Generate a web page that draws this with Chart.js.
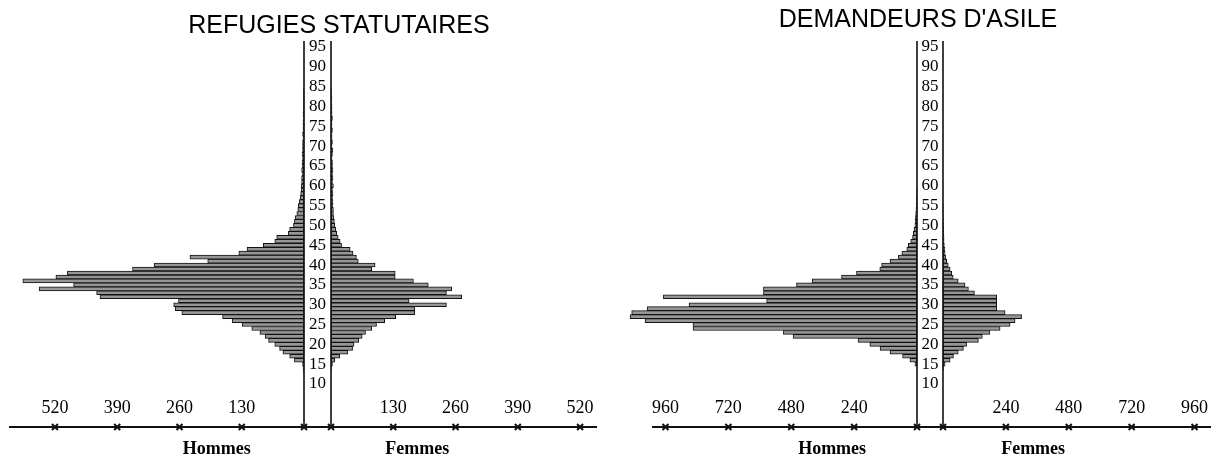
<!DOCTYPE html>
<html><head><meta charset="utf-8">
<script src="https://cdn.jsdelivr.net/npm/chart.js@4/dist/chart.umd.min.js"></script>
<style>
html,body{margin:0;padding:0;background:#fff;}
#wrap{position:relative;width:1217px;height:459px;overflow:hidden;background:#fff;}
canvas{position:absolute;top:0;}
.title{position:absolute;width:400px;text-align:center;font-family:"Liberation Sans",Arial,sans-serif;font-size:25px;line-height:30px;color:#000;white-space:nowrap;}
</style></head><body>
<div id="wrap">
<canvas id="c1" width="610" height="459" style="left:0"></canvas>
<canvas id="c2" width="607" height="459" style="left:610px"></canvas>
<div class="title" style="left:139px;top:9px">REFUGIES STATUTAIRES</div>
<div class="title" style="left:718px;top:3px">DEMANDEURS D'ASILE</div>
</div>
<script>
// Ages (single years), bottom to top
const ages = [10,11,12,13,14,15,16,17,18,19,
  20,21,22,23,24,25,26,27,28,29,
  30,31,32,33,34,35,36,37,38,39,
  40,41,42,43,44,45,46,47,48,49,
  50,51,52,53,54,55,56,57,58,59,
  60,61,62,63,64,65,66,67,68,69,
  70,71,72,73,74,75,76,77,78,79,
  80,81,82,83,84,85,86,87,88,89,
  90,91,92,93,94,95,96];

// REFUGIES STATUTAIRES
const hommesRefugies = [0,0,0,1,2,3,20,30,44,51,
  61,74,81,92,109,129,150,170,255,269,
  272,262,426,433,553,481,587,518,494,358,
  313,201,238,136,119,85,61,57,33,30,
  22,20,18,15,13,12,10,8,7,6,
  6,5,5,4,5,4,4,3,4,3,
  3,3,2,3,2,2,2,1,2,1,
  1,1,1,1,1,0,0,0,0,0,
  0,0,0,0,0,0,0];
const femmesRefugies = [0,0,0,0,1,3,8,18,35,45,
  48,58,65,72,85,95,112,135,175,175,
  241,163,273,241,252,203,172,134,134,85,
  92,57,53,46,40,22,19,15,12,10,
  8,7,6,5,5,4,4,3,4,3,
  5,3,4,3,4,3,3,2,3,4,
  2,3,2,2,3,2,2,3,2,2,
  2,1,2,1,1,0,0,0,0,0,
  0,0,0,0,0,0,0];

// DEMANDEURS D'ASILE
const hommesDemandeurs = [0,0,0,0,0,8,27,55,103,141,
  180,225,473,510,855,855,1038,1095,1089,1030,
  870,574,968,586,586,460,400,288,231,142,
  135,103,71,58,39,33,24,17,14,11,
  8,7,6,5,4,3,2,2,1,1,
  0,0,0,0,0,0,0,0,0,0,
  0,0,0,0,0,0,0,0,0,0,
  0,0,0,0,0,0,0,0,0,0,
  0,0,0,0,0,0,0];
const femmesDemandeurs = [0,0,0,0,2,8,27,40,58,78,
  90,135,150,179,218,256,275,300,237,205,
  205,205,205,120,97,84,58,39,33,27,
  20,14,10,8,7,5,4,4,3,3,
  2,1,1,1,1,1,0,0,0,0,
  0,0,0,0,0,0,0,0,0,0,
  0,0,0,0,0,0,0,0,0,0,
  0,0,0,0,0,0,0,0,0,0,
  0,0,0,0,0,0,0];

// Axis tick labels
const ticksRefugies = [130, 260, 390, 520];
const ticksDemandeurs = [240, 480, 720, 960];
const ageLabelStep = 5;

function drawMark(ctx, x, y) {
  ctx.save();
  ctx.lineWidth = 2;
  ctx.strokeStyle = '#111';
  ctx.beginPath();
  ctx.moveTo(x - 3, y - 3); ctx.lineTo(x + 3, y + 3);
  ctx.moveTo(x + 3, y - 3); ctx.lineTo(x - 3, y + 3);
  ctx.stroke();
  ctx.restore();
}

const decor = {
  id: 'decor',
  afterDatasetsDraw(chart, args, o) {
    const ctx = chart.ctx, xs = chart.scales.x, ys = chart.scales.y, ca = chart.chartArea;
    const xL = xs.getPixelForValue(-o.gap), xR = xs.getPixelForValue(o.gap);
    const axisY = ca.bottom + o.axisOffset;
    ctx.save();
    ctx.strokeStyle = '#111';
    ctx.lineWidth = 1.6;
    ctx.beginPath();
    ctx.moveTo(xL, ca.top); ctx.lineTo(xL, axisY);
    ctx.moveTo(xR, ca.top); ctx.lineTo(xR, axisY);
    ctx.stroke();
    ctx.lineWidth = 2;
    ctx.beginPath();
    ctx.moveTo(xs.getPixelForValue(o.axisFrom), axisY);
    ctx.lineTo(xs.getPixelForValue(o.axisTo), axisY);
    ctx.stroke();
    ctx.fillStyle = '#000';
    ctx.textAlign = 'center';
    ctx.textBaseline = 'middle';
    ctx.font = o.ageFont;
    const cx = (xL + xR) / 2;
    chart.data.labels.forEach((a, i) => {
      if (a % ageLabelStep === 0 && a <= 95) ctx.fillText(String(a), cx, ys.getPixelForValue(i));
    });
    ctx.font = o.tickFont;
    const marks = [-o.gap, o.gap];
    o.ticks.forEach(t => {
      marks.push(-o.gap - t, o.gap + t);
      ctx.fillText(String(t), xs.getPixelForValue(-o.gap - t), ca.bottom + o.labelOffset);
      ctx.fillText(String(t), xs.getPixelForValue(o.gap + t), ca.bottom + o.labelOffset);
    });
    marks.forEach(v => drawMark(ctx, xs.getPixelForValue(v), axisY));
    ctx.font = o.sexFont;
    ctx.fillText('Hommes', xs.getPixelForValue(-o.gap - o.sexPosH), ca.bottom + o.sexOffset);
    ctx.fillText('Femmes', xs.getPixelForValue(o.gap + o.sexPosF), ca.bottom + o.sexOffset);
    ctx.restore();
  }
};

function makePyramid(id, hommes, femmes, cfg) {
  const G = cfg.gap;
  const left = hommes.map(v => v > 0 ? [-G - v, -G] : null);
  const right = femmes.map(v => v > 0 ? [G, G + v] : null);
  const ds = (label, data) => ({
    label, data,
    backgroundColor: '#969696',
    borderColor: '#111',
    borderWidth: 1,
    borderSkipped: false,
    barPercentage: 1,
    categoryPercentage: 1,
    grouped: false
  });
  return new Chart(document.getElementById(id), {
    type: 'bar',
    data: { labels: ages, datasets: [ds('Hommes', left), ds('Femmes', right)] },
    options: {
      indexAxis: 'y',
      responsive: false,
      animation: false,
      devicePixelRatio: 1,
      layout: { padding: cfg.padding },
      scales: {
        x: { type: 'linear', min: cfg.min, max: cfg.max, display: false },
        y: { type: 'category', reverse: true, display: false }
      },
      plugins: {
        legend: { display: false },
        tooltip: { enabled: false },
        decor: {
          gap: G,
          ticks: cfg.ticks,
          axisFrom: cfg.axisFrom,
          axisTo: cfg.axisTo,
          axisOffset: 41,
          labelOffset: 22,
          sexOffset: 63,
          sexPosH: cfg.sexPosH,
          sexPosF: cfg.sexPosF,
          ageFont: '17px "Liberation Serif", "Times New Roman", serif',
          tickFont: '18px "Liberation Serif", "Times New Roman", serif',
          sexFont: 'bold 18px "Liberation Serif", "Times New Roman", serif'
        }
      }
    },
    plugins: [decor]
  });
}

makePyramid('c1', hommesRefugies, femmesRefugies, {
  gap: 28.2, min: -644.1, max: 583.5, axisFrom: -644.1, axisTo: 583.5,
  ticks: ticksRefugies, sexPosH: 182, sexPosF: 180,
  padding: { left: 9, right: 13, top: 41, bottom: 73 }
});
makePyramid('c2', hommesDemandeurs, femmesDemandeurs, {
  gap: 49.6, min: -1202.3, max: 1072.5, axisFrom: -1061.1, axisTo: 1072.5,
  ticks: ticksDemandeurs, sexPosH: 324, sexPosF: 344,
  padding: { left: 5, right: 6, top: 41, bottom: 73 }
});
</script>
</body></html>
